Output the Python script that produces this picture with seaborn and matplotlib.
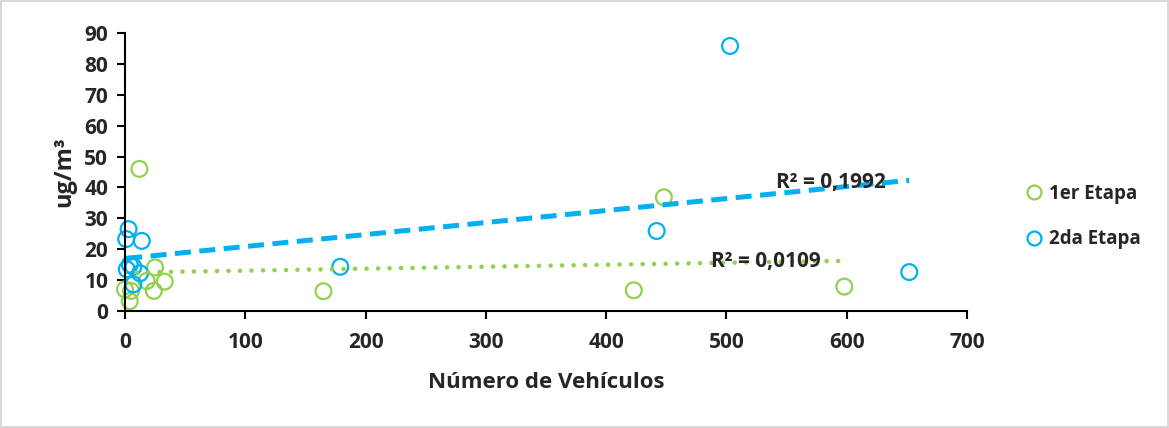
import numpy as np
import pandas as pd
import matplotlib
matplotlib.use("Agg")
import matplotlib.pyplot as plt
from matplotlib.lines import Line2D
import seaborn as sns

# Vehicle counts and concentrations per sampling stage
etapa1_vehiculos = [12, 25, 18, 33, 24, 0, 5, 4, 165, 423, 448, 598]
etapa1_conc = [46, 14.1, 9.7, 9.5, 6.5, 7, 6.5, 3.2, 6.4, 6.7, 36.8, 7.9]
etapa2_vehiculos = [3, 1, 14, 4, 1.5, 7, 12.5, 7, 179, 442, 503, 652]
etapa2_conc = [26.5, 23.3, 22.7, 15, 13.5, 14.3, 12.2, 8.6, 14.3, 25.9, 85.8, 12.6]
series_names = ["1er Etapa", "2da Etapa"]
r2_labels = ["R² = 0,0109", "R² = 0,1992"]
x_ticks = [0, 100, 200, 300, 400, 500, 600, 700]
y_ticks = [0, 10, 20, 30, 40, 50, 60, 70, 80, 90]

green = "#92D050"
blue = "#00B0F0"

df = pd.DataFrame({
    "vehiculos": etapa1_vehiculos + etapa2_vehiculos,
    "conc": etapa1_conc + etapa2_conc,
    "etapa": [series_names[0]] * len(etapa1_vehiculos) + [series_names[1]] * len(etapa2_vehiculos),
})

sns.set_theme(style="white")
plt.rcParams["font.family"] = ["Open Sans", "DejaVu Sans"]
plt.rcParams["font.weight"] = "bold"

fig = plt.figure(figsize=(11.69, 4.28), dpi=100)
fig.patch.set_edgecolor("#D9D9D9")
fig.patch.set_linewidth(1.5)
ax = fig.add_axes([0.1069, 0.2734, 0.7203, 0.6495])

# Linear trend lines over each series' range
for xs, ys, col, lw, style in [(etapa1_vehiculos, etapa1_conc, green, 3.3, (0, (0.01, 2.5))),
                               (etapa2_vehiculos, etapa2_conc, blue, 3.6, (0, (3.2, 1.7)))]:
    m, b = np.polyfit(xs, ys, 1)
    xl = np.array([min(xs), max(xs)])
    sns.lineplot(x=xl, y=m * xl + b, ax=ax, color=col, lw=lw,
                 linestyle=style, legend=False)
    ax.lines[-1].set_dash_capstyle("round" if col == green else "butt")

sns.scatterplot(data=df, x="vehiculos", y="conc", hue="etapa",
                palette=[green, blue], ax=ax, s=130, facecolor="none",
                linewidth=1.6, clip_on=False, legend=False)
# marker edges coloured by series, hollow faces
offs = ax.collections[-1]
offs.set_edgecolors([green] * len(etapa1_vehiculos) + [blue] * len(etapa2_vehiculos))
offs.set_facecolors("none")

ax.text(533, 16, r2_labels[0], ha="center", va="center", fontsize=15, fontweight="bold")
ax.text(587, 41.7, r2_labels[1], ha="center", va="center", fontsize=15, fontweight="bold")

ax.set_xlim(0, 700)
ax.set_ylim(0, 90)
ax.set_xticks(x_ticks)
ax.set_yticks(y_ticks)
ax.tick_params(axis="both", direction="out", length=6, width=1.5, color="black",
               labelsize=15, bottom=True, left=True)
ax.tick_params(axis="x", pad=9)
ax.tick_params(axis="y", pad=6)
for lab in ax.get_xticklabels() + ax.get_yticklabels():
    lab.set_fontweight("bold")
for s in ["top", "right"]:
    ax.spines[s].set_visible(False)
for s in ["left", "bottom"]:
    ax.spines[s].set_color("black")
    ax.spines[s].set_linewidth(1.5)

ax.set_xlabel("Número de Vehículos", fontsize=16, fontweight="bold", labelpad=14)
ax.set_ylabel("ug/m³", fontsize=17, fontweight="bold", labelpad=6)

handles = [Line2D([], [], marker="o", ls="none", markerfacecolor="none",
                  markeredgecolor=c, markersize=10, markeredgewidth=1.6) for c in [green, blue]]
fig.legend(handles, series_names, loc="center left", bbox_to_anchor=(0.862, 0.494),
           frameon=False, prop={"size": 13.5, "weight": "bold"}, handletextpad=0.3,
           labelspacing=1.35, handlelength=1)

fig.savefig("out.png", dpi=100, edgecolor=fig.get_edgecolor())
